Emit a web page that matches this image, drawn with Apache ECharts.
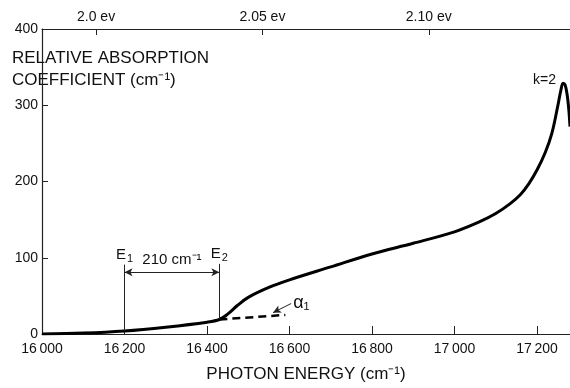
<!DOCTYPE html>
<html>
<head>
<meta charset="utf-8">
<script src="https://cdn.jsdelivr.net/npm/echarts@6/dist/echarts.min.js"></script>
<style>
    html, body {margin: 0; padding: 0; background: #fff;}
    #main {width: 570px; height: 388px;}
</style>
</head>
<body>
<div id="main"></div>
<script>
// absorption curve (cm^-1, relative coefficient)
let energy = [16000, 16100, 16200, 16300, 16400, 16430, 16450, 16475, 16500, 16550, 16600, 16700, 16800, 16900, 17000, 17060, 17100, 17135, 17160, 17180, 17200, 17220, 17236, 17250, 17258, 17263, 17268, 17273, 17277, 17280];
let absorb = [0, 1.2, 4, 9, 15.5, 19, 26, 38, 48, 61, 71, 88, 105, 119, 134, 147, 158, 171, 183, 197, 215, 238, 263, 298, 320, 329, 327, 314, 295, 272];
// alpha_1 extrapolation (dashed)
let alphaX = [16430, 16590];
let alphaY = [19, 25];
// E1 / E2 markers
let e1 = 16200, e2 = 16430;
// top axis in electron volts
let evTicks = [2.0, 2.05, 2.10];
let evLabels = ['2.0 ev', '2.05 ev', '2.10 ev'];
let CM_PER_EV = 8065.54;

let font = 'Liberation Sans, Arial, sans-serif';
let evCm = evTicks.map(v => v * CM_PER_EV);

let fmtCm = (v) => {  // 16000 -> "16 000"
    let s = String(v);
    return s.slice(0, s.length - 3) + '\u2009' + s.slice(-3);
};

let subLabel = (n) => {  // E with subscript
    return {
        formatter: '{e|E}{s|' + n + '}',
        position: 'end',
        distance: 0,
        rich: {
            e: {fontFamily: font, fontSize: 15, color: '#111'},
            s: {fontFamily: font, fontSize: 11, color: '#111', padding: [8, 0, 0, 1]}
        }
    };
};

let myChart = echarts.init(document.getElementById('main'));

myChart.setOption({
    animation: false,
    grid: {left: 42, right: 0, top: 29, bottom: 43},
    xAxis: [{
        type: 'value',
        min: 16000,
        max: 17280,
        interval: 200,
        name: 'PHOTON ENERGY (cm\u207B\u00B9)',
        nameLocation: 'middle',
        nameGap: 32,
        nameTextStyle: {color: '#111', fontFamily: font, fontSize: 17},
        axisLine: {lineStyle: {color: '#222', width: 1.2}},
        axisTick: {inside: true, length: 8, lineStyle: {color: '#222'}},
        axisLabel: {color: '#111', fontFamily: font, fontSize: 14, margin: 8, formatter: fmtCm, showMaxLabel: false},
        splitLine: {show: false}
    }, {
        type: 'value',
        position: 'top',
        min: 16000,
        max: 17280,
        axisLine: {lineStyle: {color: '#222', width: 1.2}},
        axisTick: {inside: true, length: 6, customValues: evCm, lineStyle: {color: '#222'}},
        axisLabel: {
            color: '#111', fontFamily: font, fontSize: 14, margin: 5,
            customValues: evCm,
            formatter: (v) => {
                let i = evCm.findIndex(c => Math.abs(c - v) < 1);
                return i >= 0 ? evLabels[i] : '';
            }
        },
        splitLine: {show: false}
    }],
    yAxis: {
        type: 'value',
        min: 0,
        max: 400,
        interval: 100,
        axisLine: {show: true, lineStyle: {color: '#222', width: 1.2}},
        axisTick: {show: true, inside: true, length: 6, lineStyle: {color: '#222'}},
        axisLabel: {color: '#111', fontFamily: font, fontSize: 14, margin: 4},
        splitLine: {show: false}
    },
    graphic: [{
        type: 'text',
        left: 12,
        top: 47,
        style: {
            text: 'RELATIVE ABSORPTION\nCOEFFICIENT (cm\u207B\u00B9)',
            fill: '#111',
            font: '17px ' + font,
            lineHeight: 22
        }
    }],
    series: [{
        type: 'line',
        data: energy.map((x, i) => [x, absorb[i]]),
        smooth: 0.35,
        showSymbol: false,
        silent: true,
        lineStyle: {color: '#000', width: 3},
        markPoint: {
            symbolSize: 0,
            silent: true,
            data: [{coord: [17263, 329], label: {show: true, formatter: 'k=2', position: 'left', offset: [-2, -3], color: '#111', fontFamily: font, fontSize: 14}}]
        }
    }, {
        type: 'line',
        data: alphaX.map((x, i) => [x, alphaY[i]]),
        showSymbol: false,
        silent: true,
        lineStyle: {color: '#000', width: 2.5, type: [8, 5]},
        markLine: {
            silent: true,
            symbol: 'none',
            animation: false,
            lineStyle: {color: '#222', width: 1, type: 'solid'},
            label: {color: '#111', fontFamily: font, fontSize: 14},
            data: [
                [{coord: [e1, 4]}, {coord: [e1, 91], label: subLabel(1)}],
                [{coord: [e2, 20]}, {coord: [e2, 92], label: subLabel(2)}],
                [{coord: [e1, 81], symbol: 'arrow', symbolSize: [6, 8]},
                    {coord: [e2, 81], symbol: 'arrow', symbolSize: [6, 8],
                        label: {formatter: '210 cm\u207B\u00B9', position: 'middle', fontSize: 15, backgroundColor: '#fff', padding: [0, 6]}}],
                [{coord: [16604, 40]},
                    {coord: [16560, 28], symbol: 'arrow', symbolSize: [6, 8],
                        lineStyle: {curveness: 0.3}}]
            ]
        },
        markPoint: {
            symbolSize: 0,
            silent: true,
            data: [{coord: [16604, 40], label: {show: true, formatter: '\u03B1\u2081', position: 'right', distance: 2, color: '#111', fontFamily: font, fontSize: 18}}]
        }
    }]
});
</script>
</body>
</html>
